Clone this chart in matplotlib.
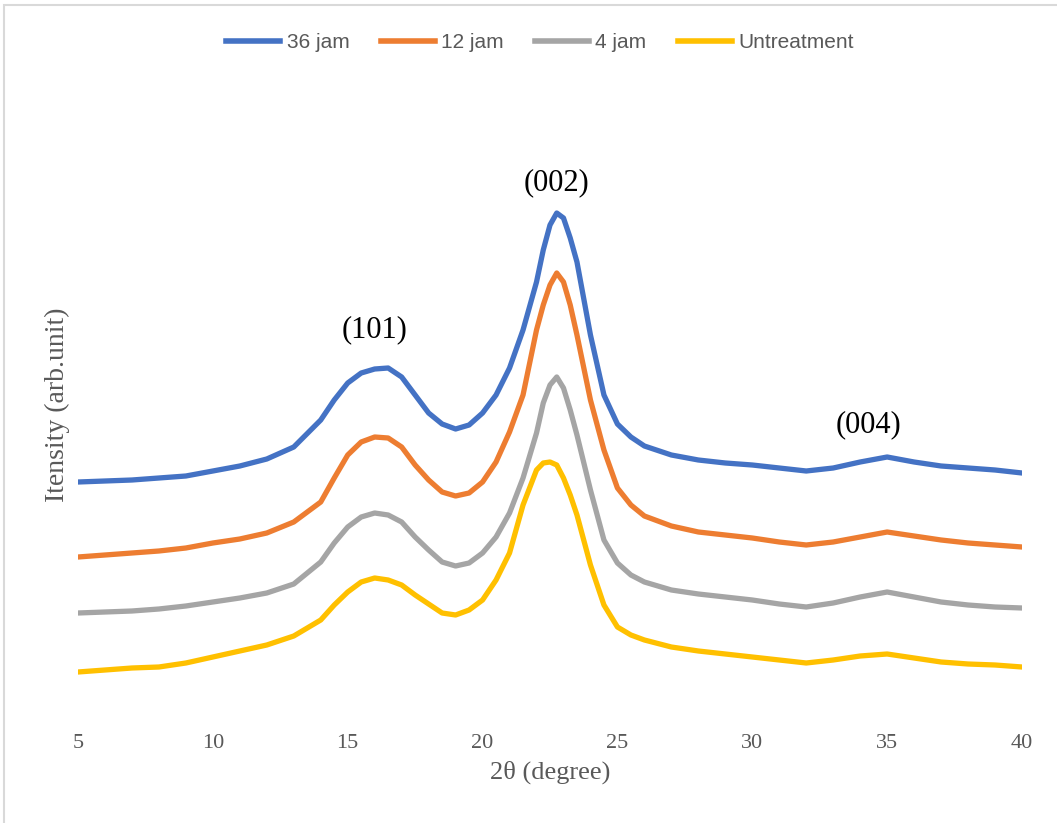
import numpy as np
import matplotlib
matplotlib.use("Agg")
import matplotlib.pyplot as plt
from matplotlib.patches import Rectangle

# 2theta grid (degree) and intensities (arb. unit)
two_theta = [5, 6, 7, 8, 9, 10, 11, 12, 13, 14,
             14.5, 15, 15.5, 16, 16.5, 17, 17.5, 18, 18.5, 19, 19.5, 20, 20.5, 21, 21.5, 22,
             22.25, 22.5, 22.75, 23, 23.25, 23.5,
             24, 24.5, 25, 25.5, 26,
             27, 28, 29, 30, 31, 32, 33, 34, 35, 36, 37, 38, 39, 40]

jam36 = [248, 249, 250, 252, 254, 259, 264, 271, 283, 310,
         330, 347, 357, 361, 362, 353, 335, 317, 306, 301, 305, 317, 335, 362, 400, 448,
         480, 505, 517, 512, 492, 468,
         395, 335, 306, 293, 284,
         275, 270, 267, 265, 262, 259, 262, 268, 273, 268, 264, 262, 260, 257]

jam12 = [173, 175, 177, 179, 182, 187, 191, 197, 208, 228,
         252, 275, 288, 293, 292, 283, 265, 250, 238, 234, 237, 248, 268, 298, 335, 400,
         425, 445, 457, 448, 425, 395,
         330, 280, 242, 225, 214,
         204, 198, 195, 192, 188, 185, 188, 193, 198, 194, 190, 187, 185, 183]

jam4 = [117, 118, 119, 121, 124, 128, 132, 137, 146, 168,
        187, 203, 213, 217, 215, 208, 193, 180, 168, 164, 167, 177, 193, 217, 252, 297,
        327, 345, 353, 342, 320, 295,
        240, 190, 167, 155, 148,
        140, 136, 133, 130, 126, 123, 127, 133, 138, 133, 128, 125, 123, 122]

untreated = [58, 60, 62, 63, 67, 73, 79, 85, 94, 110,
             125, 138, 148, 152, 150, 145, 135, 126, 117, 115, 120, 130, 150, 177, 225, 260,
             267, 268, 265, 252, 235, 215,
             165, 125, 103, 95, 90,
             83, 79, 76, 73, 70, 67, 70, 74, 76, 72, 68, 66, 65, 63]

series_names = ["36 jam", "12 jam", "4 jam", "Untreatment"]
series_colors = ["#4472C4", "#ED7D31", "#A5A5A5", "#FFC000"]

peak_labels = ["(101)", "(002)", "(004)"]
peak_pos = [16.0, 22.75, 34.3]
peak_height = [400, 547, 305]

serif = ["Liberation Serif", "DejaVu Serif"]
narrow = ["Liberation Sans Narrow", "Liberation Sans", "DejaVu Sans"]

fig = plt.figure(figsize=(10.57, 8.23), dpi=100)
fig.patches.append(Rectangle((4 / 1057, -0.1), 1.2, (823 - 5) / 823 + 0.1,
                             transform=fig.transFigure, fill=False,
                             edgecolor="#D9D9D9", linewidth=1.5))

ax = fig.add_axes([78 / 1057, 93 / 823, 944 / 1057, 650 / 823])

for vals, name, col in zip([jam36, jam12, jam4, untreated], series_names, series_colors):
    ax.plot(two_theta, vals, color=col, linewidth=3.8, label=name)

for lab, x, y in zip(peak_labels, peak_pos, peak_height):
    ax.text(x, y, lab, ha="center", va="center", fontsize=22, family=serif, color="black")

ax.set_xlim(5, 40)
ax.set_ylim(0, 650)
ax.set_xticks(range(5, 41, 5))
ax.set_yticks([])
ax.tick_params(axis="x", length=0, pad=3, labelsize=16, labelcolor="#595959")
for t in ax.get_xticklabels():
    t.set_family(serif)
for s in ax.spines.values():
    s.set_visible(False)

ax.set_xlabel("2θ (degree)", fontsize=19, family=serif, color="#595959", labelpad=5)
ax.set_ylabel("Itensity (arb.unit)", fontsize=20, family=serif, color="#595959", labelpad=6)

leg = fig.legend(loc="center", bbox_to_anchor=(540 / 1057, 1 - 43 / 823), ncol=4, frameon=False,
                 prop={"family": narrow, "size": 15}, labelcolor="#595959",
                 handlelength=2.6, handletextpad=0.3, columnspacing=1.5)
for h in leg.get_lines():
    h.set_linewidth(4)

fig.savefig("out.png", dpi=100)
